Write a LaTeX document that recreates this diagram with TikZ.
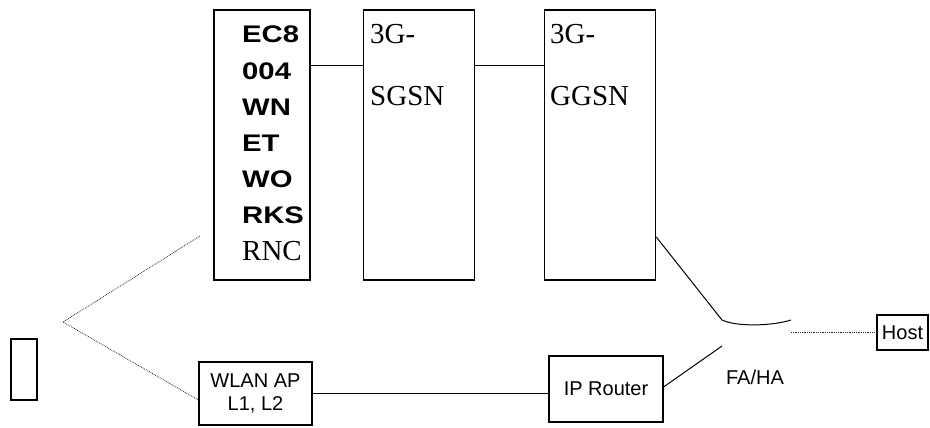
\documentclass[tikz,border=0pt]{standalone}
\usepackage{fontspec}
\setmainfont{Liberation Serif}
\setsansfont{Liberation Sans}
\newfontfamily\widesans[FakeStretch=1.22]{Liberation Sans}
\usetikzlibrary{positioning}

\begin{document}
\begin{tikzpicture}[
  x=1pt, y=-1pt,
  every node/.style={inner sep=0pt},
  netbox/.style={draw, line width=1.3pt, minimum width=111pt, minimum height=270pt},
  smallbox/.style={draw, line width=1.1pt, align=center, font=\sffamily\fontsize{20}{23}\selectfont},
  lbl/.style={anchor=north west, align=left, font=\fontsize{29}{62}\selectfont},
  wire/.style={line width=1pt},
  airlink/.style={densely dotted, line width=0.8pt, black!85}
]
\useasboundingbox (0,0) rectangle (930,428);

% Core network: RNC, SGSN, GGSN
\node[netbox, minimum width=96pt] (rnc) at (262,145) {};
\node[netbox, right=52pt of rnc] (sgsn) {};
\node[netbox, right=69pt of sgsn] (ggsn) {};
\node[lbl, font=\widesans\bfseries\fontsize{24}{36.2}\selectfont] (rnclbl) at (242,26)
  {EC8\\004\\WN\\ET\\WO\\RKS\\{\rmfamily\mdseries\fontsize{29}{36.2}\selectfont RNC}};
\node[lbl] (sgsnlbl) at (370,24) {3G-\\SGSN};
\node[lbl] (ggsnlbl) at (550,24) {3G-\\GGSN};
\draw[wire] ([yshift=-56pt]rnc.north east) -- ([yshift=-56pt]sgsn.north west);
\draw[wire] ([yshift=-56pt]sgsn.north east) -- ([yshift=-56pt]ggsn.north west);

% Access side: mobile, WLAN AP, IP router
\node[draw, line width=1.1pt, minimum width=26pt, minimum height=61pt] (mobile) at (24,369.5) {};
\node[smallbox, minimum width=113pt, minimum height=63pt] (wlan) at (255.5,393.5) {WLAN AP\\L1, L2};
\node[smallbox, minimum width=114pt, minimum height=66pt] (router) at (606,389) {IP Router};
\coordinate (air) at (63,322);
\coordinate (rncair) at (200,236);
\draw[airlink] (rncair) -- (air) -- ([yshift=-6.5pt]wlan.west);
\draw[wire] (wlan.east) -- (wlan.east -| router.west);

% FA/HA and host
\node[font=\sffamily\fontsize{20}{23}\selectfont] (faha) at (755,377) {FA/HA};
\node[smallbox, minimum width=51pt, minimum height=35pt, font=\sffamily\fontsize{20}{22}\selectfont] (host) at (902.5,332.5) {Host};
\coordinate (fahaL) at (722,320);
\coordinate (fahaR) at (791,320);
\coordinate (fahalow) at (722,346);
\coordinate (fahaS) at (791,332.5);
\draw[wire] ([yshift=-92pt]ggsn.east) -- (fahaL) .. controls (737,327) and (772,326) .. (fahaR);
\draw[wire] ([yshift=2pt]router.east) -- (fahalow);
\draw[airlink] (fahaS) -- (host.west);

\end{tikzpicture}
\end{document}
